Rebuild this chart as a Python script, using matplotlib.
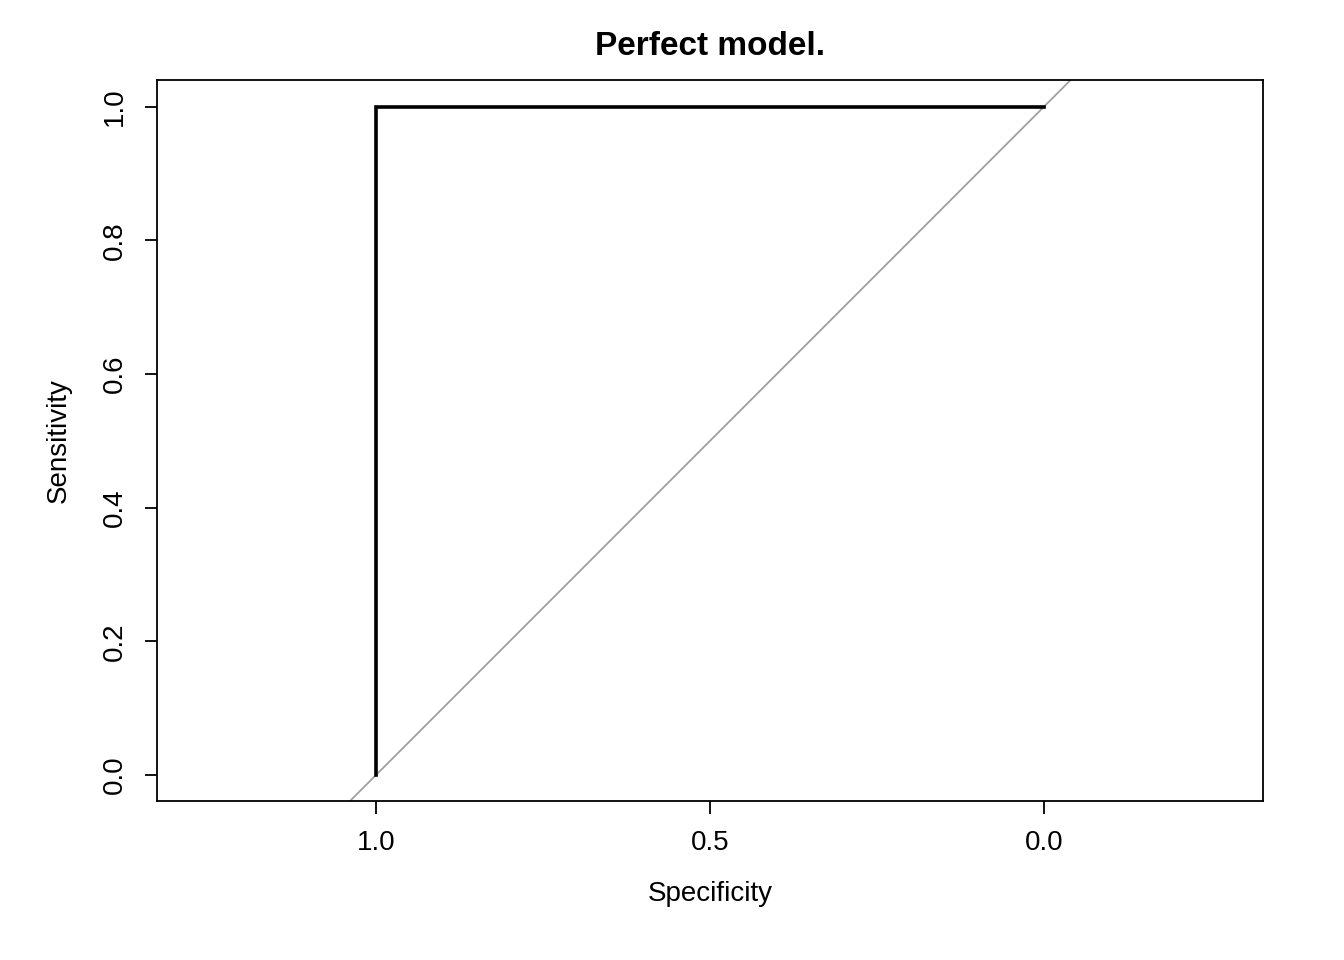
import matplotlib
matplotlib.use("Agg")
import matplotlib.pyplot as plt

plt.rcParams['font.family'] = ['Liberation Sans', 'DejaVu Sans']

specificity = [1.0, 1.0, 0.0]
sensitivity = [0.0, 1.0, 1.0]
x_ticks = [1.0, 0.5, 0.0]
y_ticks = [0.0, 0.2, 0.4, 0.6, 0.8, 1.0]

fig = plt.figure(figsize=(13.44, 9.6), dpi=100)
ax = fig.add_axes([157/1344, 1 - 801/960, (1263-157)/1344, (801-80)/960])

# chance diagonal
ax.plot([1.5, -0.5], [-0.5, 1.5], color='#a0a0a0', lw=1.3)
ax.plot(specificity, sensitivity, color='black', lw=2.6, solid_joinstyle='miter')

ax.set_xlim(1.328, -0.328)
ax.set_ylim(-0.039, 1.040)
ax.set_xticks(x_ticks)
ax.set_xticklabels(['1.0', '0.5', '0.0'])
ax.set_yticks(y_ticks)
ax.set_yticklabels(['0.0', '0.2', '0.4', '0.6', '0.8', '1.0'], rotation=90, va='center')
ax.tick_params(length=9, width=1.3, labelsize=20, pad=12)
for s in ax.spines.values():
    s.set_linewidth(1.3)

ax.set_xlabel('Specificity', fontsize=20, labelpad=18)
ax.set_ylabel('Sensitivity', fontsize=20, labelpad=22)
ax.set_title('Perfect model.', fontsize=24, fontweight='bold', pad=18)

fig.savefig('out.png', dpi=100)
